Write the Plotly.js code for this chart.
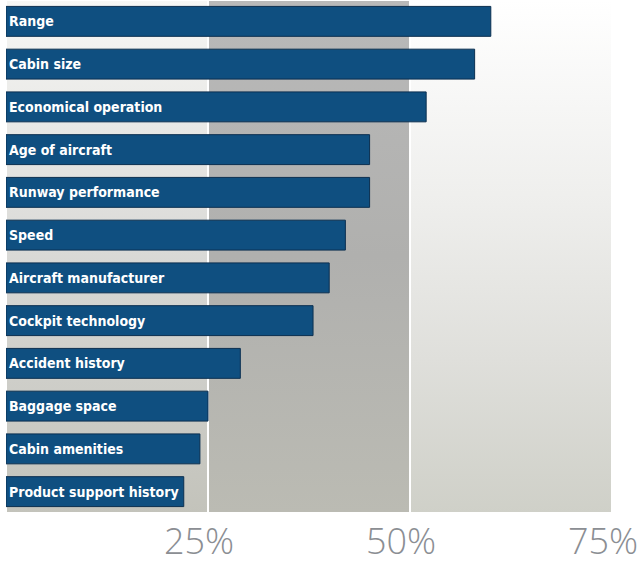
<!DOCTYPE html>
<html>
<head>
<meta charset="utf-8">
<script src="https://cdn.plot.ly/plotly-3.0.1.min.js"></script>
<style>html,body{margin:0;padding:0;background:#fff;}#chart{width:642px;height:568px;}</style>
</head>
<body>
<div id="chart"></div>
<script>
// Data (percent of respondents)
var categories = [
  "Range", "Cabin size", "Economical operation", "Age of aircraft",
  "Runway performance", "Speed", "Aircraft manufacturer", "Cockpit technology",
  "Accident history", "Baggage space", "Cabin amenities", "Product support history"
];
var values = [60, 58, 52, 45, 45, 42, 40, 38, 29, 25, 24, 22];
var tickValues = [25, 50, 75];
var tickLabels = ["25%", "50%", "75%"];
var bandEdges = [0, 25, 50, 75];

var bandScales = [
  [[0, "#c3c3bb"], [0.45, "#d6d6d3"], [1, "#f7f7f5"]],
  [[0, "#bbbbb3"], [0.5, "#b0b0ae"], [1, "#b9b9b9"]],
  [[0, "#cfd0c8"], [0.3, "#dfdfdb"], [0.6, "#eeeeec"], [1, "#ffffff"]]
];

var traces = [];
for (var i = 0; i < bandEdges.length - 1; i++) {
  var a = bandEdges[i], b = bandEdges[i + 1];
  traces.push({
    type: "scatter", mode: "lines",
    x: [a, b, b, a, a], y: [0, 0, 1, 1, 0],
    xaxis: "x", yaxis: "y",
    fill: "toself",
    fillgradient: {type: "vertical", start: 0, stop: 1, colorscale: bandScales[i]},
    line: {color: "#ffffff", width: 2},
    hoverinfo: "skip", showlegend: false
  });
}

traces.push({
  type: "bar", orientation: "h",
  x: values, y: categories,
  xaxis: "x", yaxis: "y2",
  width: 0.7,
  marker: {color: "#0f4f80", line: {color: "#0b2f50", width: 1}},
  text: categories,
  textposition: "inside",
  insidetextanchor: "start",
  constraintext: "none",
  textfont: {family: "DejaVu Sans Condensed, DejaVu Sans, sans-serif", size: 14, color: "#ffffff", weight: "bold", stretch: "condensed"},
  hoverinfo: "skip", showlegend: false
});

var layout = {
  width: 642, height: 568,
  margin: {l: 6, r: 30, t: 0, b: 55},
  paper_bgcolor: "#ffffff", plot_bgcolor: "#ffffff",
  xaxis: {
    range: [0, 75], tickvals: tickValues, ticktext: tickLabels,
    showgrid: false, zeroline: false, showline: false, ticks: "",
    ticklabelstandoff: 4,
    ticklabelshift: -9,
    ticklabeloverflow: "allow",
    tickfont: {family: "Open Sans, sans-serif", size: 36, color: "#8b8e93", weight: 300},
    automargin: false, fixedrange: true
  },
  yaxis: {range: [0, 1], visible: false, fixedrange: true},
  yaxis2: {
    overlaying: "y", type: "category",
    categoryorder: "array", categoryarray: categories,
    range: [11.5, -0.5], visible: false, fixedrange: true
  },
  bargap: 0.3,
  showlegend: false
};

Plotly.newPlot("chart", traces, layout, {displayModeBar: false, staticPlot: true});
</script>
</body>
</html>
